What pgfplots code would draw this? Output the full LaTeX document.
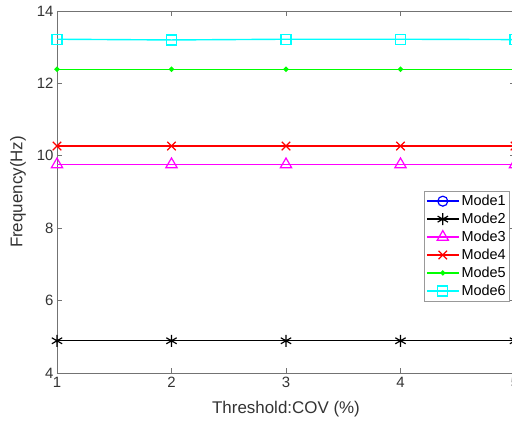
\documentclass[border=0pt]{standalone}
\usepackage{fontspec}
\setmainfont{Liberation Sans}
\usepackage{pgfplots}
\pgfplotsset{compat=1.18}
\definecolor{mblue}{rgb}{0,0,1}
\definecolor{mmag}{rgb}{1,0,1}
\definecolor{mred}{rgb}{1,0,0}
\definecolor{mgreen}{rgb}{0,1,0}
\definecolor{mcyan}{rgb}{0,1,1}
\begin{document}
\begin{tikzpicture}
\begin{axis}[name=ax,
  scale only axis, width=458bp, height=362bp,
  xmin=1, xmax=5, ymin=4, ymax=14,
  xtick={1,2,3,4,5}, ytick={4,6,8,10,12,14},
  tick align=inside, major tick length=5bp,
  axis line style={black!55, line width=0.8bp},
  tick style={black!55, line width=0.8bp},
  ticklabel style={font=\fontsize{15}{18}\selectfont, text=black!80},
  xticklabel style={yshift=-1bp},
  /pgf/number format/assume math mode=true,
  xlabel={Threshold:COV (\%)}, ylabel={Frequency(Hz)},
  every axis x label/.style={at={(axis description cs:0.5,-0.1003)}, anchor=center, font=\fontsize{17}{20}\selectfont, text=black!80},
  every axis y label/.style={at={(axis description cs:-0.085,0.5)}, anchor=center, rotate=90, font=\fontsize{17}{20}\selectfont, text=black!80},
  legend style={at={(0.989,0.503)}, anchor=north east, draw=black!40, line width=0.6bp,
    font=\fontsize{14.5}{17}\selectfont, inner sep=2bp, row sep=2bp,
    cells={anchor=west}},
  legend image code/.code={\draw[mark repeat=2,mark phase=2,#1] plot coordinates {(0bp,0bp)(16bp,0bp)(32bp,0bp)};},
]
\addplot[mblue, line width=1.4bp, mark=o, mark size=5bp, mark options={line width=1.2bp}] coordinates {(1,3.3)(2,3.3)(3,3.3)(4,3.3)(5,3.3)};
\addlegendentry{Mode1}
\addplot[black, line width=1.4bp, mark=asterisk, mark size=6bp, mark options={line width=1.2bp}] coordinates {(1,4.89)(2,4.89)(3,4.89)(4,4.89)(5,4.89)};
\addlegendentry{Mode2}
\addplot[mmag, line width=1.4bp, mark=triangle, mark size=6.5bp, mark options={line width=1.2bp}] coordinates {(1,9.76)(2,9.76)(3,9.76)(4,9.76)(5,9.76)};
\addlegendentry{Mode3}
\addplot[mred, line width=1.4bp, mark=x, mark size=6bp, mark options={line width=1.2bp}] coordinates {(1,10.27)(2,10.27)(3,10.27)(4,10.27)(5,10.27)};
\addlegendentry{Mode4}
\addplot[mgreen, line width=1.4bp, mark=*, mark size=1.8bp] coordinates {(1,12.39)(2,12.39)(3,12.39)(4,12.39)(5,12.39)};
\addlegendentry{Mode5}
\addplot[mcyan, line width=1.4bp, mark=square, mark size=5bp, mark options={line width=1.2bp}] coordinates {(1,13.22)(2,13.20)(3,13.22)(4,13.22)(5,13.21)};
\addlegendentry{Mode6}
\end{axis}
\pgfresetboundingbox
\path[use as bounding box] ([shift={(-57bp,-48.3bp)}]ax.south west) rectangle ([shift={(455bp,373bp)}]ax.south west);
\end{tikzpicture}
\end{document}
